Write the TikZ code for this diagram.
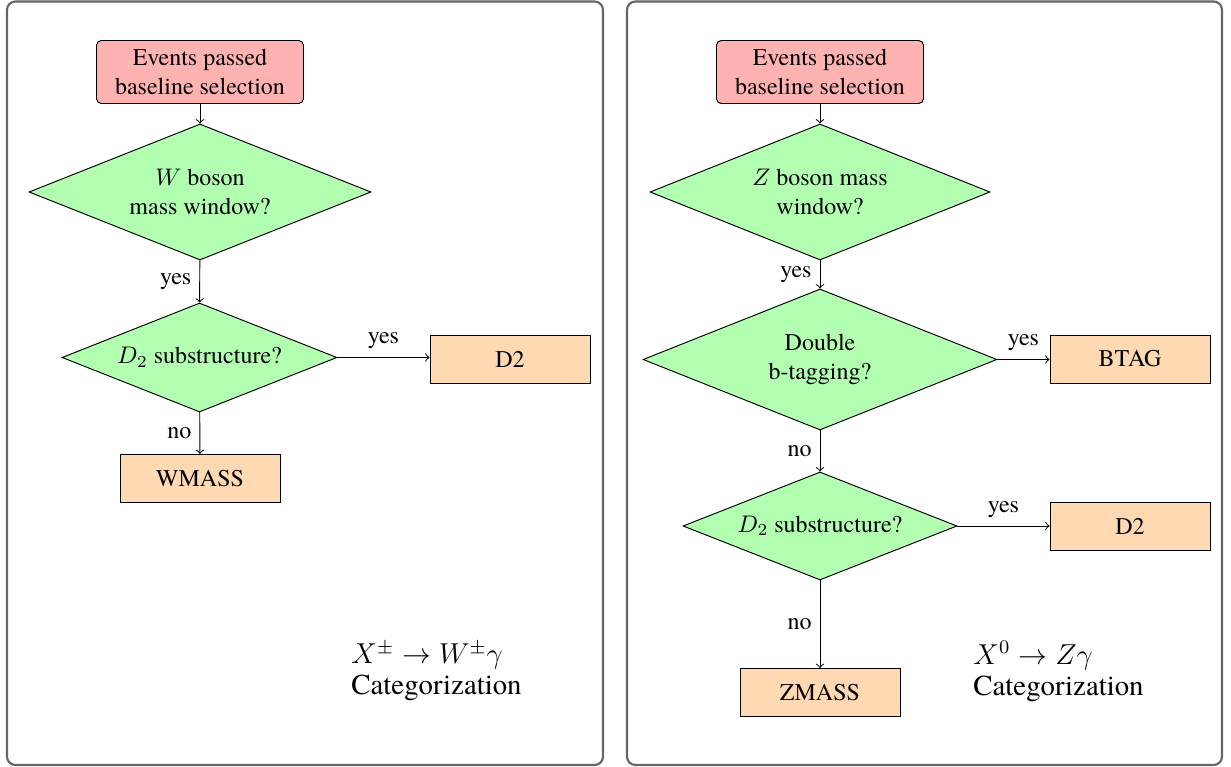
\documentclass[tikz,border=0pt]{standalone}
\usepackage[no-math]{fontspec}
\setmainfont{texgyretermes}[Extension=.otf, UprightFont=*-regular, BoldFont=*-bold, ItalicFont=*-italic, BoldItalicFont=*-bolditalic]
\usetikzlibrary{shapes.geometric}
\def\pxu{0.41667pt}
\tikzset{
  panel/.style={draw=black!60, line width=0.9pt, rounded corners=3.5pt},
  startbox/.style={draw, rectangle, rounded corners=2pt, fill=red!30, align=center,
    minimum width={207*\pxu}, minimum height={63*\pxu}, inner sep=0pt},
  decision/.style={draw, diamond, fill=green!30, align=center, inner sep=0pt, aspect=2.5},
  outbox/.style={draw, rectangle, fill=orange!30, minimum width={160*\pxu},
    minimum height={48*\pxu}, inner sep=0pt},
  arrow/.style={->},
  lbl/.style={font=\fontsize{10}{12}\selectfont},
  caption/.style={align=left, anchor=north west, inner sep=0pt, font=\fontsize{12}{13}\selectfont}
}
\begin{document}
\begin{tikzpicture}[x=\pxu, y=-\pxu, font=\fontsize{10}{12}\selectfont]
\useasboundingbox (0,0) rectangle (1231,767);
% panels
\draw[panel] (7,1.5) rectangle (603,765);
\draw[panel] (627,1.5) rectangle (1222,765);

% left panel
\node[startbox] (ls) at (200,72) {Events passed\\baseline selection};
\node[decision, minimum width={342*\pxu}, minimum height={136*\pxu}] (lw) at (200,192) {$W$ boson\\mass window?};
\node[decision, minimum width={275*\pxu}, minimum height={109*\pxu}] (ld) at (199.5,357.5) {$D_2$ substructure?};
\node[outbox] (ldtwo) at (510,359) {D2};
\node[outbox] (lwm) at (200,478.5) {WMASS};
\draw[arrow] (ls) -- (lw);
\draw[arrow] (lw) -- node[left, lbl] {yes} (ld);
\draw[arrow] (ld.east) -- node[above, lbl] {yes} (ldtwo.west |- ld.east);
\draw[arrow] (ld) -- node[left, lbl] {no} (lwm);
\node[caption] (lcap) at (351,641) {$X^{\pm}\to W^{\pm}\gamma$\\Categorization};

% right panel
\node[startbox] (rs) at (820,72) {Events passed\\baseline selection};
\node[decision, minimum width={340*\pxu}, minimum height={136*\pxu}] (rz) at (820,192) {$Z$ boson mass\\window?};
\node[decision, minimum width={354*\pxu}, minimum height={141*\pxu}] (rb) at (820,359.5) {Double\\b-tagging?};
\node[outbox] (rbtag) at (1130,359) {BTAG};
\node[decision, minimum width={274*\pxu}, minimum height={108*\pxu}] (rd) at (820,526) {$D_2$ substructure?};
\node[outbox] (rdtwo) at (1130,526) {D2};
\node[outbox] (rzm) at (820,692.5) {ZMASS};
\draw[arrow] (rs) -- (rz);
\draw[arrow] (rz) -- node[left, lbl] {yes} (rb);
\draw[arrow] (rb.east) -- node[above, lbl] {yes} (rbtag.west |- rb.east);
\draw[arrow] (rb) -- node[left, lbl] {no} (rd);
\draw[arrow] (rd.east) -- node[above, lbl] {yes} (rdtwo.west |- rd.east);
\draw[arrow] (rd) -- node[left, lbl] {no} (rzm);
\node[caption] (rcap) at (973,641) {$X^{0}\to Z\gamma$\\Categorization};
\end{tikzpicture}
\end{document}
